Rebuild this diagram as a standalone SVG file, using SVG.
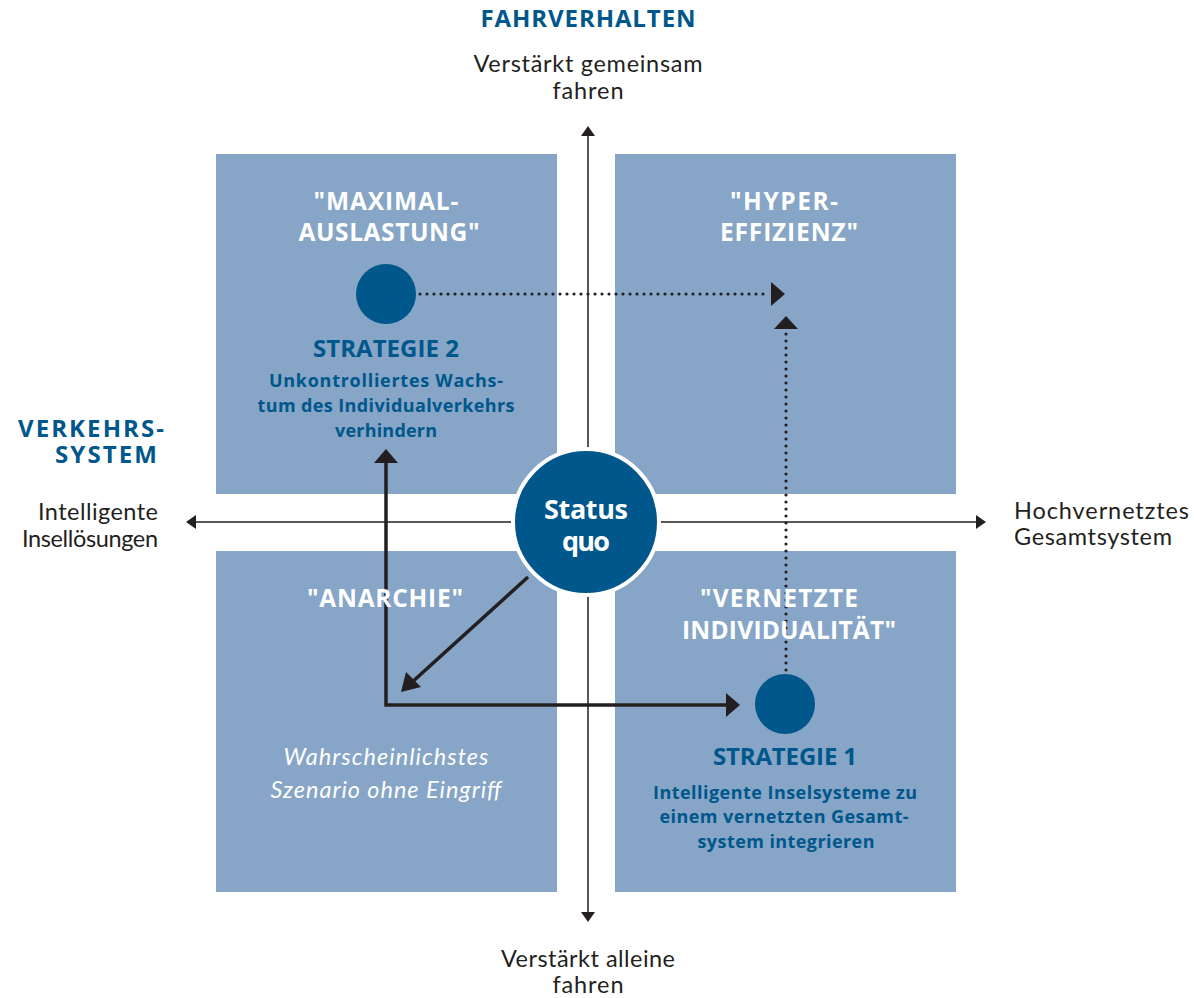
<svg xmlns="http://www.w3.org/2000/svg" width="1194" height="998" viewBox="0 0 1194 998">
<style>
.q{fill:#86a5c7}
.axis{stroke:#231f20;stroke-width:1.5;fill:none}
.sol{stroke:#231f20;stroke-width:3.5;fill:none}
.dot{stroke:#231f20;stroke-width:3.2;fill:none;stroke-linecap:round;stroke-dasharray:0 7}
.ah{fill:#231f20}
.qt{font-family:"Open Sans",Lato,sans-serif;font-weight:700;font-size:24.5px;fill:#fff;text-anchor:middle}
.st{font-family:"Open Sans",Lato,sans-serif;font-weight:700;font-size:24px;fill:#00578b;text-anchor:middle}
.sd{font-family:"Open Sans",Lato,sans-serif;font-weight:700;font-size:18px;fill:#00578b;text-anchor:middle}
.hd{font-family:"Open Sans",Lato,sans-serif;font-weight:700;font-size:24px;fill:#00578b}
.lb{font-family:Lato,"Noto Sans",sans-serif;font-size:23.5px;fill:#231f20}
.it{font-family:Lato,"Noto Sans",sans-serif;font-style:italic;font-size:23.5px;fill:#fff;text-anchor:middle}
.dk{fill:#00578b}
</style>
<g id="quadrants">
<rect class="q" x="216" y="154" width="341" height="340"/>
<rect class="q" x="615" y="154" width="341" height="340"/>
<rect class="q" x="216" y="551" width="341" height="341"/>
<rect class="q" x="615" y="551" width="341" height="341"/>
</g>
<g id="axes">
<line class="axis" x1="588" y1="134" x2="588" y2="914"/>
<polygon class="ah" points="588,126 581,136 595,136"/>
<polygon class="ah" points="588,922 581,912 595,912"/>
<line class="axis" x1="193" y1="522" x2="979" y2="522"/>
<polygon class="ah" points="186,522 196,515 196,529"/>
<polygon class="ah" points="986,522 976,515 976,529"/>
</g>
<g id="connectors">
<path class="sol" d="M386,461 V705 H727"/>
<polygon class="ah" points="386,449 374,463 398,463"/>
<polygon class="ah" points="740,705 726,693 726,717"/>
<line class="sol" x1="528" y1="577" x2="410" y2="684"/>
<polygon class="ah" points="401,692 406,672 421,687"/>
<line class="dot" x1="420" y1="294" x2="770" y2="294"/>
<polygon class="ah" points="785,294 771,282 771,306"/>
<line class="dot" x1="786" y1="670" x2="786" y2="331"/>
<polygon class="ah" points="786,316 774,329 798,329"/>
</g>
<g id="status-quo">
<circle class="dk" cx="586" cy="522" r="73" stroke="#fff" stroke-width="4"/>
<text font-family="'Open Sans',Lato,sans-serif" font-weight="700" font-size="27" fill="#fff" text-anchor="middle"><tspan x="586" y="519" textLength="84">Status</tspan><tspan x="586" y="551" textLength="48">quo</tspan></text>
</g>
<g id="maximalauslastung">
<text class="qt"><tspan x="386" y="210" textLength="145">"MAXIMAL-</tspan><tspan x="389" y="241" textLength="181">AUSLASTUNG"</tspan></text>
</g>
<g id="hypereffizienz">
<text class="qt"><tspan x="784" y="210" textLength="108">"HYPER-</tspan><tspan x="789" y="241" textLength="138">EFFIZIENZ"</tspan></text>
</g>
<g id="anarchie">
<text class="qt" x="385" y="607" textLength="156">"ANARCHIE"</text>
<text class="it"><tspan x="386" y="765" textLength="205">Wahrscheinlichstes</tspan><tspan x="386" y="798" textLength="231">Szenario ohne Eingriff</tspan></text>
</g>
<g id="vernetzte">
<text class="qt"><tspan x="779" y="607" textLength="158">"VERNETZTE</tspan><tspan x="789" y="639" textLength="214">INDIVIDUALITÄT"</tspan></text>
</g>
<g id="strategie2">
<circle class="dk" cx="386" cy="294" r="30"/>
<text class="st" x="386" y="357" textLength="146">STRATEGIE 2</text>
<text class="sd"><tspan x="386" y="387" textLength="234">Unkontrolliertes Wachs-</tspan><tspan x="386" y="412" textLength="257">tum des Individualverkehrs</tspan><tspan x="386" y="437" textLength="102">verhindern</tspan></text>
</g>
<g id="strategie1">
<circle class="dk" cx="785" cy="704" r="30"/>
<text class="st" x="785" y="765" textLength="144">STRATEGIE 1</text>
<text class="sd"><tspan x="785" y="799" textLength="264">Intelligente Inselsysteme zu</tspan><tspan x="784" y="823" textLength="249">einem vernetzten Gesamt-</tspan><tspan x="786" y="848" textLength="177">system integrieren</tspan></text>
</g>
<g id="labels">
<text class="hd" x="588" y="27" text-anchor="middle" textLength="215">FAHRVERHALTEN</text>
<text class="lb" text-anchor="middle"><tspan x="588" y="72" textLength="229">Verstärkt gemeinsam</tspan><tspan x="588" y="99" textLength="71">fahren</tspan></text>
<text class="lb" text-anchor="middle"><tspan x="588" y="967" textLength="174">Verstärkt alleine</tspan><tspan x="588" y="993" textLength="71">fahren</tspan></text>
<text class="hd" text-anchor="end"><tspan x="164" y="437" textLength="146">VERKEHRS-</tspan><tspan x="157" y="463" textLength="102">SYSTEM</tspan></text>
<text class="lb" text-anchor="end"><tspan x="158" y="520" textLength="120">Intelligente</tspan><tspan x="158" y="547" textLength="136">Insellösungen</tspan></text>
<text class="lb"><tspan x="1014" y="519" textLength="175">Hochvernetztes</tspan><tspan x="1014" y="545" textLength="158">Gesamtsystem</tspan></text>
</g>
</svg>
